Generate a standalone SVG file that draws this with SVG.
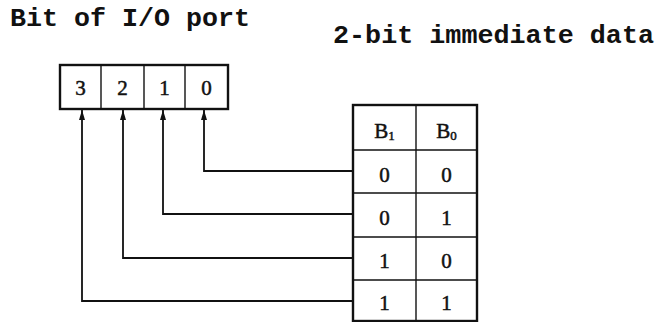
<svg xmlns="http://www.w3.org/2000/svg" width="657" height="322" viewBox="0 0 657 322">
<style>
.t{font-family:"Liberation Mono","DejaVu Sans Mono",monospace;fill:#111}
.title{font-size:25px;font-weight:bold}
.cell{font-family:"Liberation Serif","DejaVu Serif",serif;font-size:21px;text-anchor:middle;stroke:#111;stroke-width:0.5}
.box{fill:none;stroke:#111;stroke-width:2.4}
.div{stroke:#111;stroke-width:1.4}
.wire{fill:none;stroke:#111;stroke-width:1.8}
</style>
<defs>
<marker id="ah" viewBox="0 0 10 6" refX="10" refY="3" markerWidth="10" markerHeight="6" markerUnits="userSpaceOnUse" orient="auto">
<path d="M0,0 L10,3 L0,6 Z" fill="#111"/>
</marker>
</defs>
<rect width="657" height="322" fill="#fff"/>
<text class="t title" x="10" y="26" textLength="240" lengthAdjust="spacingAndGlyphs">Bit of I/O port</text>
<text class="t title" x="333" y="43" textLength="321" lengthAdjust="spacingAndGlyphs">2-bit immediate data</text>
<g id="port">
<rect class="box" x="60" y="65" width="168" height="44"/>
<line class="div" x1="101" y1="65" x2="101" y2="109"/>
<line class="div" x1="144" y1="65" x2="144" y2="109"/>
<line class="div" x1="185" y1="65" x2="185" y2="109"/>
<text class="t cell" x="80.5" y="95">3</text>
<text class="t cell" x="122.5" y="95">2</text>
<text class="t cell" x="164.5" y="95">1</text>
<text class="t cell" x="206.5" y="95">0</text>
</g>
<g id="table">
<rect class="box" x="353" y="105" width="124" height="216"/>
<line class="div" x1="416" y1="105" x2="416" y2="321"/>
<line class="div" x1="353" y1="150" x2="477" y2="150"/>
<line class="div" x1="353" y1="193" x2="477" y2="193"/>
<line class="div" x1="353" y1="237" x2="477" y2="237"/>
<line class="div" x1="353" y1="280" x2="477" y2="280"/>
<text class="t cell" x="384.5" y="138">B<tspan font-size="13" dy="2">1</tspan></text>
<text class="t cell" x="446.5" y="138">B<tspan font-size="13" dy="2">0</tspan></text>
<text class="t cell" x="384.5" y="182">0</text>
<text class="t cell" x="446.5" y="182">0</text>
<text class="t cell" x="384.5" y="225">0</text>
<text class="t cell" x="446.5" y="225">1</text>
<text class="t cell" x="384.5" y="268">1</text>
<text class="t cell" x="446.5" y="268">0</text>
<text class="t cell" x="384.5" y="310">1</text>
<text class="t cell" x="446.5" y="310">1</text>
</g>
<g id="connectors">
<path class="wire" d="M353,171 H204 V110" marker-end="url(#ah)"/>
<path class="wire" d="M353,214 H163 V110" marker-end="url(#ah)"/>
<path class="wire" d="M353,258 H123 V110" marker-end="url(#ah)"/>
<path class="wire" d="M353,301 H82 V110" marker-end="url(#ah)"/>
</g>
</svg>
